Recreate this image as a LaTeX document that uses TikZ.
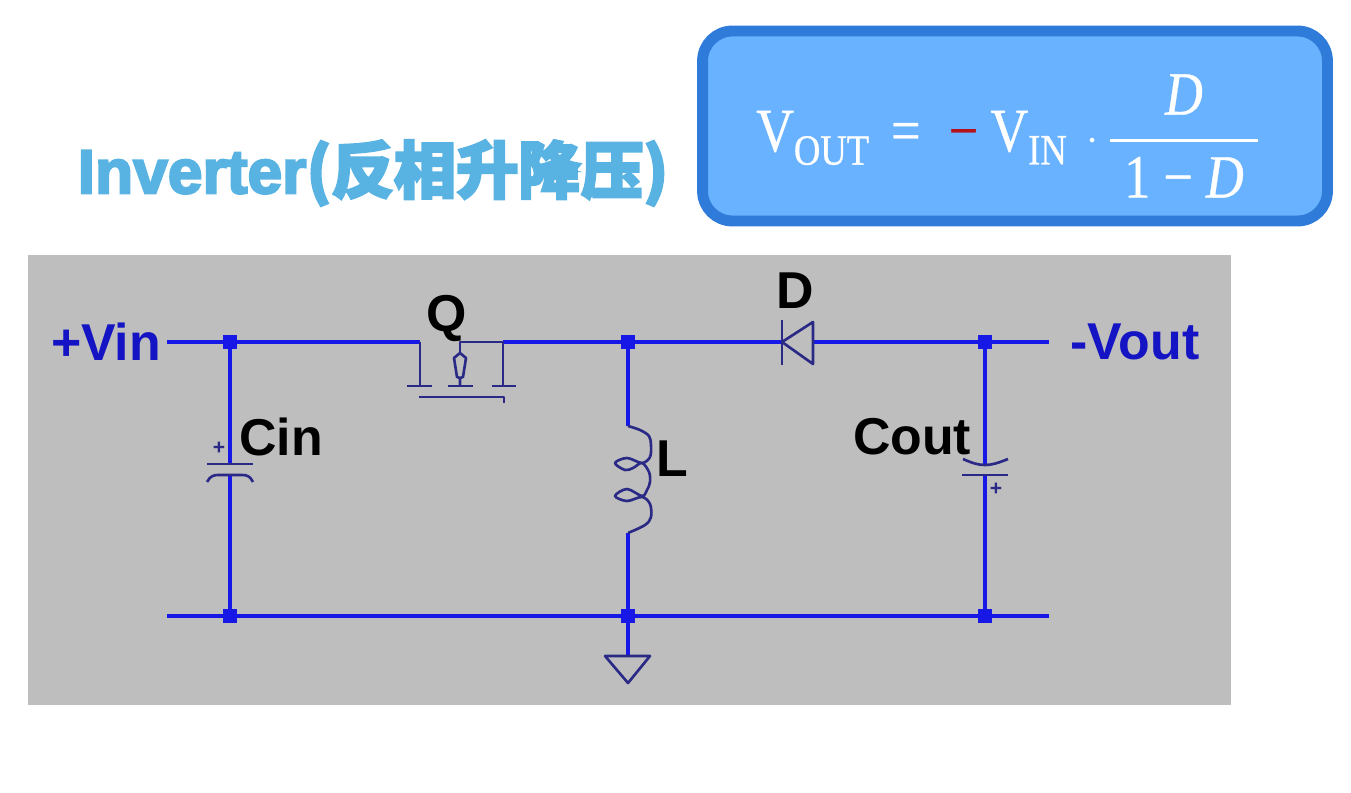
\documentclass[tikz,border=0pt]{standalone}
\usepackage{amsmath}
\usepackage{fontspec}
\setsansfont{Liberation Sans}
\newfontfamily\cjk[BoldFeatures={FakeBold=3.5}]{Noto Sans CJK SC}
\newfontfamily\ttlfont[BoldFeatures={FakeBold=3.5}]{Liberation Sans}
\newfontfamily\fml[FakeBold=0.6, FakeStretch=0.85, ItalicFeatures={FakeBold=0.6, FakeStretch=0.85}]{Liberation Serif}
\newcommand{\fmlt}[1]{\text{\fml #1}}
\usetikzlibrary{calc}
\definecolor{wireb}{HTML}{1818E6}
\definecolor{part}{HTML}{2A2A86}
\definecolor{lblb}{HTML}{1414C4}
\definecolor{panelg}{HTML}{BEBEBE}
\definecolor{boxf}{HTML}{69B2FF}
\definecolor{boxd}{HTML}{2E7BD9}
\definecolor{ttl}{HTML}{58B2E2}
\definecolor{neg}{HTML}{B5121B}
\tikzset{
  wire/.style={draw=wireb, line width=1.9pt},
  sym/.style={draw=part, line width=1.5pt, line join=round},
  junc/.style={rectangle, fill=wireb, inner sep=0pt, minimum size=8pt},
  lbl/.style={font=\sffamily\bfseries\fontsize{29.5}{32}\selectfont, inner sep=0pt, text=black},
  port/.style={lbl, text=lblb},
  plus/.style={font=\sffamily\bfseries\fontsize{12}{12}\selectfont, text=part, inner sep=0pt},
}

\begin{document}
\begin{tikzpicture}[x=0.02cm, y=-0.02cm]
\useasboundingbox (0,0) rectangle (1351,793);

% ───────────── title and formula ─────────────
\node[font=\bfseries\fontsize{35.5}{40}\selectfont, text=ttl, inner sep=0pt] (title) at (373,173) {{\ttlfont\bfseries Inverter}{\cjk\bfseries (反相升降压)}};
\node[draw=boxd, fill=boxf, line width=6.2pt, rounded corners=17pt, minimum width=12.5cm, minimum height=3.8cm,
      inner sep=0pt] (box) at (1015,126) {};
\node[inner sep=0pt, text=white, font=\fontsize{35}{42}\selectfont] (formula) at (1008,136)
  {$\fmlt{V}_{\fmlt{OUT}}\hspace{12pt}\fmlt{=}\hspace{16pt}\fmlt{\color{neg}−}\hspace{7pt}\fmlt{V}_{\fmlt{IN}}\hspace{5pt}\cdot\hspace{0pt}\genfrac{}{}{1.6pt}{0}{\fmlt{\itshape D}\rule[-9pt]{0pt}{0pt}}{\rule{0pt}{27pt}\makebox[84pt]{\fmlt{1 − \itshape D}}}$};

% ───────────── panel ─────────────
\node[fill=panelg, inner sep=0pt, minimum width=24.06cm, minimum height=9cm] (panel) at (629.5,480) {};

% junctions
\node[junc] (j1) at (230,342) {};
\node[junc] (j2) at (628,342) {};
\node[junc] (j3) at (985,342) {};
\node[junc] (j4) at (230,616) {};
\node[junc] (j5) at (628,616) {};
\node[junc] (j6) at (985,616) {};

% ends of the wires at the parts
\coordinate (vin) at (167,342);
\coordinate (vout) at (1049,342);
\coordinate (gl) at (167,616);
\coordinate (gr) at (1049,616);
\coordinate (qs) at (420,342);
\coordinate (qd) at (503,342);
\coordinate (da) at (782,342);
\coordinate (dc) at (813,342);
\coordinate (cia) at (230,464);
\coordinate (cib) at (230,475);
\coordinate (coa) at (985,465);
\coordinate (cob) at (985,475);
\coordinate (la) at (628,426);
\coordinate (lb) at (628,533);
\coordinate (gnd) at (628,656);

\draw[wire] (vin) -- (j1) -- (qs);
\draw[wire] (qd) -- (j2) -- (da);
\draw[wire] (dc) -- (j3) -- (vout);
\draw[wire] (gl) -- (j4) -- (j5) -- (j6) -- (gr);
\draw[wire] (j1) -- (cia);
\draw[wire] (cib) -- (j4);
\draw[wire] (j2) -- (la);
\draw[wire] (lb) -- (j5);
\draw[wire] (j3) -- (coa);
\draw[wire] (cob) -- (j6);
\draw[wire] (j5) -- (gnd);

% ───────────── switch ─────────────
\draw[sym] (qs) -- (420,386) (407,386) -- (432,386);
\draw[sym] (460,386) -- (460,378) -- (457,377) -- (454,358) -- (460,353) -- (466,358) -- (463,377) -- (460,378);
\draw[sym] (460,353) -- (460,342) -- (qd) -- (503,386) (448,386) -- (473,386) (492,386) -- (516,386);
\draw[sym] (419,397) -- (504,397) -- (504,403);

% ───────────── diode ─────────────
\draw[sym] (782,320) -- (782,365);
\draw[sym] (da) -- (813,322) -- (813,364) -- cycle;

% ───────────── capacitors ─────────────
\draw[sym] (207,464) -- (253,464);
\draw[sym] (207,482) .. controls (210,476) and (214,475) .. (218,475) -- (242,475) .. controls (247,475) and (250,476) .. (253,482);
\node[plus] (pin) at (219,448) {+};
\draw[sym] (963,459) .. controls (972,463) and (978,465) .. (coa) .. controls (992,465) and (998,463) .. (1008,459);
\draw[sym] (962,475) -- (1008,475);
\node[plus] (pout) at (996,489) {+};

% ───────────── inductor ─────────────
\draw[sym] plot[smooth, tension=0.55] coordinates {(la) (640,430) (649,436) (651,445) (650,457) (642,463) (627,458)
  (615,463) (625,470) (633,468) (642,463) (649,472) (650,482) (647,490) (642,496) (627,489) (615,496) (627,501)
  (642,497) (650,504) (651,517) (645,525) (lb)};

% ───────────── ground ─────────────
\draw[sym] (605,656) -- (650,656) -- (628,683) -- cycle;

% ───────────── labels ─────────────
\node[port] (lin) at (106,342) {+Vin};
\node[port] (lout) at (1135,342) {-Vout};
\node[lbl] (lq) at (447,319) {Q};
\node[lbl] (ld) at (795,291) {D};
\node[lbl] (lcin) at (281,437) {Cin};
\node[lbl] (lcout) at (912,437) {Cout};
\node[lbl] (ll) at (672,459) {L};
\end{tikzpicture}
\end{document}
